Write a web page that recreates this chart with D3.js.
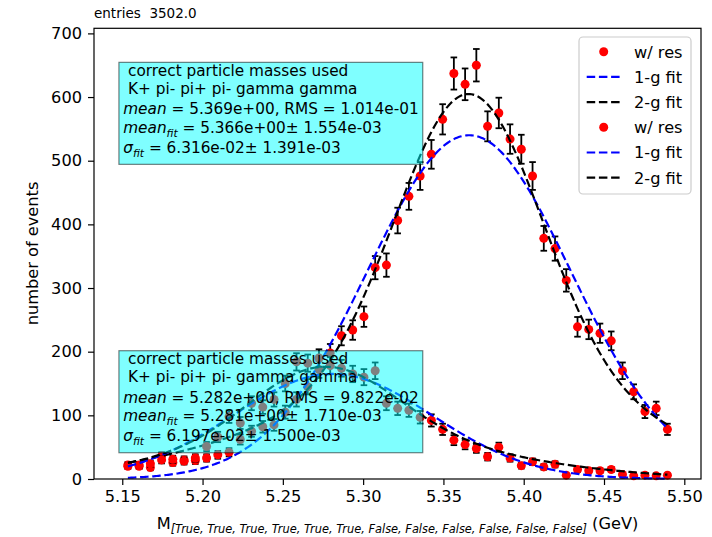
<!DOCTYPE html>
<html>
<head>
<meta charset="utf-8">
<script src="https://cdn.jsdelivr.net/npm/d3@7"></script>
<style>
body { margin: 0; background: #fff; }
text { font-family: "DejaVu Sans", sans-serif; white-space: pre; }
</style>
</head>
<body>
<svg width="712" height="537"></svg>
<script>
// bin centres (GeV)
var massBins = [5.1535, 5.1605, 5.1675, 5.1745, 5.1815, 5.1885, 5.1955, 5.2025, 5.2095, 5.2165,
                5.2235, 5.2305, 5.2375, 5.2445, 5.2515, 5.2585, 5.2655, 5.2725, 5.2795, 5.2865,
                5.2935, 5.3005, 5.3075, 5.3145, 5.3215, 5.3285, 5.3355, 5.3425, 5.3495, 5.3565,
                5.3635, 5.3705, 5.3775, 5.3845, 5.3915, 5.3985, 5.4055, 5.4125, 5.4195, 5.4265,
                5.4335, 5.4405, 5.4475, 5.4545, 5.4615, 5.4685, 5.4755, 5.4825, 5.4895];

// "w/ res" counts, first (narrow peak at 5.37) and second sample (peak at 5.28)
var counts1 = [22, 20, 18, 36, 26, 30, 29, 33, 38, 42, 62, 75, 82, 85, 105, 125, 145, 172, 198, 225,
               234, 255, 332, 336, 406, 444, 476, 510, 565, 637, 620, 650, 554, 575, 534, 518, 476, 378,
               362, 312, 239, 235, 229, 217, 170, 137, 106, 111, 78];
var counts2 = [20, 22, 24, 30, 31, 28, 33, 51, 66, 98, 88, 119, 113, 125, 150, 184, 182, 190, 178, 174,
               165, 160, 170, 119, 111, 108, 97, 92, 78, 61, 54, 48, 35, 50, 33, 21, 27, 19,
               23, 6, 15, 13, 13, 15, 7, 5, 6, 5, 6];

// fit parameters [amplitude, mean, sigma]
var oneG1 = [[540, 5.366, 0.06316]];
var twoG1 = [[455, 5.366, 0.045], [150, 5.36, 0.11]];
var oneG2 = [[165, 5.281, 0.06197]];
var twoG2 = [[115, 5.275, 0.045], [62, 5.29, 0.095]];

var xTicks = [5.15, 5.20, 5.25, 5.30, 5.35, 5.40, 5.45, 5.50];
var yTicks = [0, 100, 200, 300, 400, 500, 600, 700];

var legendLabels = ["w/ res", "1-g fit", "2-g fit", "w/ res", "1-g fit", "2-g fit"];
var legendKinds = ["dot", "blue", "black", "dot", "blue", "black"];

var box1 = [
  [{t: " correct particle masses used"}],
  [{t: " K+ pi- pi+ pi- gamma gamma"}],
  [{t: "mean", i: 1}, {t: " = 5.369e+00, RMS = 1.014e-01"}],
  [{t: "mean", i: 1}, {t: "fit", i: 1, s: 1}, {t: " = 5.366e+00± 1.554e-03"}],
  [{t: "σ", i: 1}, {t: "fit", i: 1, s: 1}, {t: " = 6.316e-02± 1.391e-03"}]
];
var box2 = [
  [{t: " correct particle masses used"}],
  [{t: " K+ pi- pi+ pi- gamma gamma"}],
  [{t: "mean", i: 1}, {t: " = 5.282e+00, RMS = 9.822e-02"}],
  [{t: "mean", i: 1}, {t: "fit", i: 1, s: 1}, {t: " = 5.281e+00± 1.710e-03"}],
  [{t: "σ", i: 1}, {t: "fit", i: 1, s: 1}, {t: " = 6.197e-02± 1.500e-03"}]
];

var svg = d3.select("svg");

var x = d3.scaleLinear().domain([5.1324, 5.5104]).range([94, 701]),
    y = d3.scaleLinear().domain([0, 708]).range([479, 28.3]);

function gauss(pars, m) {
  return d3.sum(pars, function(p) { return p[0] * Math.exp(-0.5 * Math.pow((m - p[1]) / p[2], 2)); });
}

var fineX = d3.range(massBins[0], massBins[massBins.length - 1] + 1e-9, 0.001);
var line = d3.line().x(function(d) { return x(d[0]); }).y(function(d) { return y(d[1]); });

function drawPoints(counts) {
  var g = svg.append("g");
  var data = counts.map(function(c, i) { return {m: massBins[i], n: c, e: Math.sqrt(c)}; });
  var bars = g.append("g").attr("stroke", "#000").attr("stroke-width", 1.8);
  bars.selectAll(".eb").data(data).enter().append("line")
      .attr("x1", function(d) { return x(d.m); }).attr("x2", function(d) { return x(d.m); })
      .attr("y1", function(d) { return y(d.n - d.e); }).attr("y2", function(d) { return y(d.n + d.e); });
  [-1, 1].forEach(function(sgn) {
    bars.selectAll(".cap" + sgn).data(data).enter().append("line")
        .attr("x1", function(d) { return x(d.m) - 3.3; }).attr("x2", function(d) { return x(d.m) + 3.3; })
        .attr("y1", function(d) { return y(d.n + sgn * d.e); }).attr("y2", function(d) { return y(d.n + sgn * d.e); });
  });
  g.selectAll("circle").data(data).enter().append("circle")
      .attr("cx", function(d) { return x(d.m); })
      .attr("cy", function(d) { return y(d.n); })
      .attr("r", 4.5).attr("fill", "#ff0000");
}

function drawFit(pars, color) {
  svg.append("path")
      .datum(fineX.map(function(m) { return [m, gauss(pars, m)]; }))
      .attr("d", line).attr("fill", "none")
      .attr("stroke", color).attr("stroke-width", 2.2)
      .attr("stroke-dasharray", "8.5,3.7");
}

drawPoints(counts1);
drawFit(oneG1, "#0000ff");
drawFit(twoG1, "#000000");
drawPoints(counts2);
drawFit(oneG2, "#0000ff");
drawFit(twoG2, "#000000");

// stat boxes
var lineOffsets = [0, 18, 38.3, 56.7, 76.7];
function drawBox(lines, m0, v0) {
  var g = svg.append("g");
  var rect = g.append("rect");
  var tx = x(m0), ty = y(v0);
  var txt = g.append("g").attr("font-size", 15.3);
  lines.forEach(function(segs, k) {
    var t = txt.append("text").attr("x", tx).attr("y", ty + lineOffsets[k]);
    var shifted = 0;
    segs.forEach(function(s) {
      var sp = t.append("tspan").text(s.t);
      if (s.i) sp.attr("font-style", "italic");
      if (s.s) { sp.attr("font-size", 10.7).attr("dy", 3.8 - shifted); shifted = 3.8; }
      else if (shifted) { sp.attr("dy", -shifted); shifted = 0; }
    });
  });
  var bb = txt.node().getBBox();
  rect.attr("x", bb.x - 4.3).attr("y", ty - 13.7)
      .attr("width", bb.width + 8.4).attr("height", lineOffsets[4] + 25.3)
      .attr("fill", "rgba(0,255,255,0.5)").attr("stroke", "rgba(0,0,0,0.5)").attr("stroke-width", 1.2);
}
drawBox(box1, 5.1506, 633);
drawBox(box2, 5.1506, 180);

// axes
var xAxis = d3.axisBottom(x).tickValues(xTicks).tickFormat(d3.format(".2f")).tickSize(6).tickPadding(5);
var yAxis = d3.axisLeft(y).tickValues(yTicks).tickSize(6).tickPadding(6);
var gx = svg.append("g").attr("transform", "translate(0,479)").call(xAxis);
var gy = svg.append("g").attr("transform", "translate(94,0)").call(yAxis);
[gx, gy].forEach(function(g) {
  g.select(".domain").remove();
  g.selectAll("line").attr("stroke", "#000").attr("stroke-width", 1.2);
  g.selectAll("text").attr("font-family", "DejaVu Sans").attr("font-size", 16.2).attr("fill", "#000");
});

svg.append("rect").attr("x", 94).attr("y", 28.3).attr("width", 607).attr("height", 450.7)
    .attr("fill", "none").attr("stroke", "#000").attr("stroke-width", 1.2);

// legend
var lg = svg.append("g");
lg.append("rect").attr("x", 579).attr("y", 37).attr("width", 112).attr("height", 157)
    .attr("rx", 4).attr("fill", "rgba(255,255,255,0.8)").attr("stroke", "#cccccc").attr("stroke-width", 1.2);
legendLabels.forEach(function(lab, k) {
  var cy = 51.7 + k * 25.2;
  if (legendKinds[k] === "dot") {
    lg.append("circle").attr("cx", 603.7).attr("cy", cy).attr("r", 4.5).attr("fill", "#ff0000");
  } else {
    lg.append("line").attr("x1", 586.7).attr("x2", 620.7).attr("y1", cy).attr("y2", cy)
        .attr("stroke", legendKinds[k] === "blue" ? "#0000ff" : "#000").attr("stroke-width", 2.2)
        .attr("stroke-dasharray", "8.5,3.7");
  }
  lg.append("text").attr("x", 634).attr("y", cy).attr("dy", "0.36em")
      .attr("font-size", 16.2).text(lab);
});

// labels
var xl = svg.append("text").attr("x", 397.5).attr("y", 529).attr("text-anchor", "middle").attr("font-size", 16.2);
xl.append("tspan").text("M");
xl.append("tspan").attr("font-size", 11.4).attr("font-style", "italic").attr("dy", 4)
    .text("[True, True, True, True, True, True, False, False, False, False, False, False]");
xl.append("tspan").attr("dy", -4).text(" (GeV)");

svg.append("text").attr("transform", "translate(38,253.5) rotate(-90)")
    .attr("text-anchor", "middle").attr("font-size", 16.2).text("number of events");

svg.append("text").attr("x", 94).attr("y", 17.5).attr("font-size", 13.5).text("entries  3502.0");
</script>
</body>
</html>
